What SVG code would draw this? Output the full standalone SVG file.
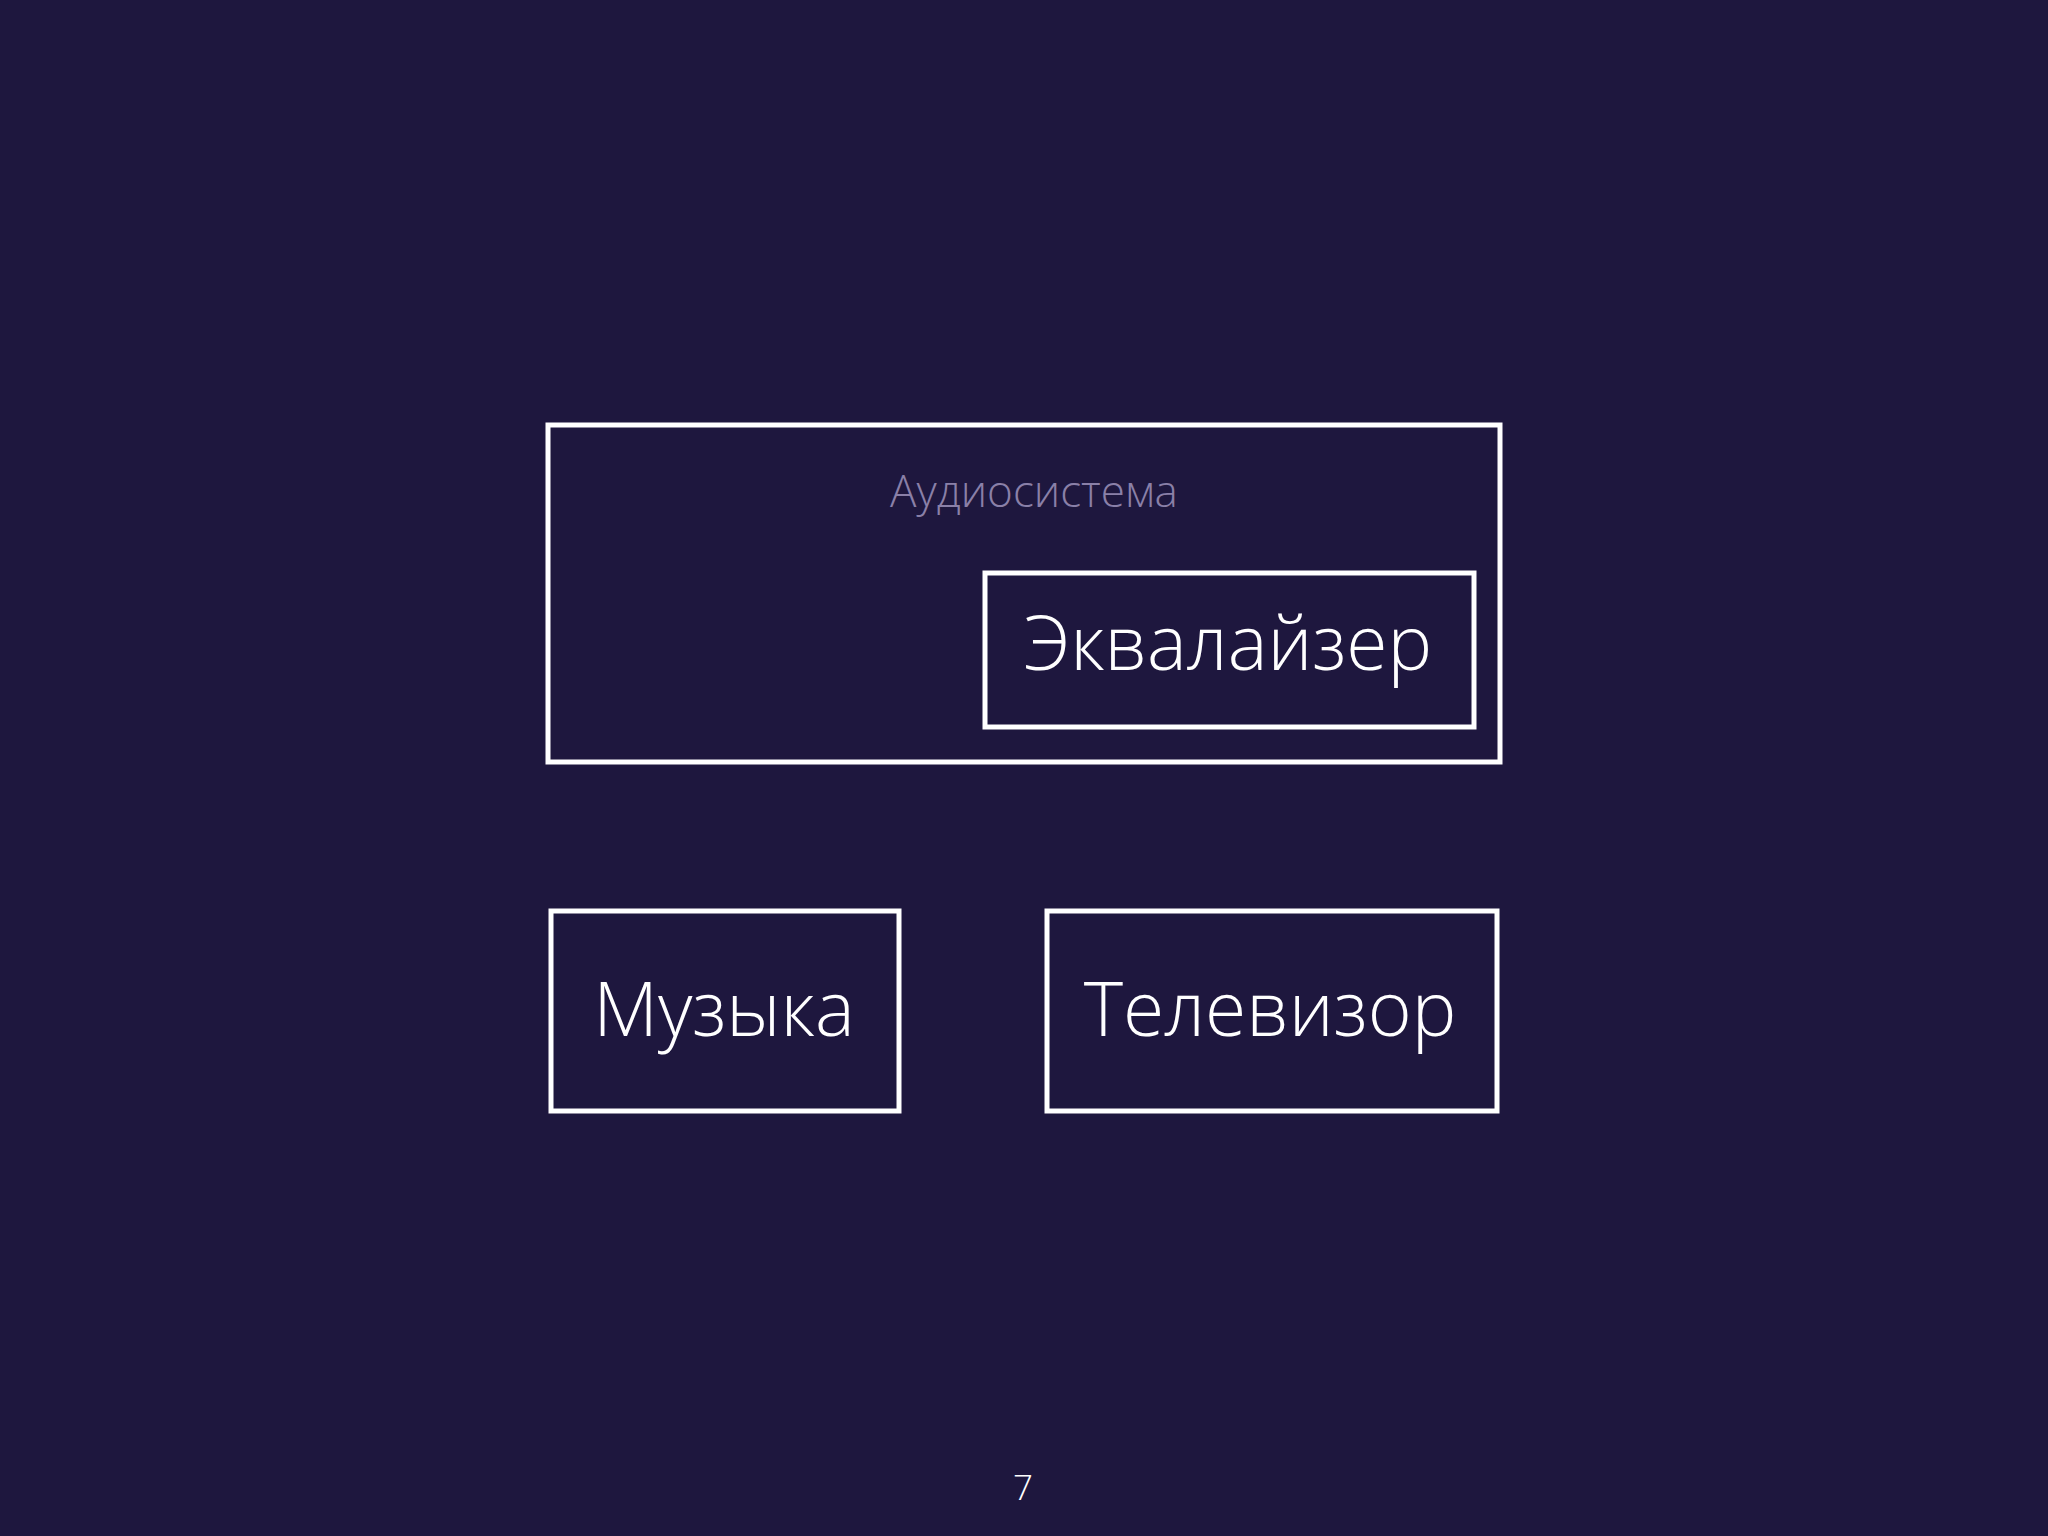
<svg xmlns="http://www.w3.org/2000/svg" width="2048" height="1536" viewBox="0 0 2048 1536">
<style>
.box{fill:none;stroke:#ffffff;stroke-width:5}
.lbl{font-family:"Open Sans","Liberation Sans",sans-serif;font-weight:300;fill:#ffffff;text-anchor:middle}
</style>
<rect x="0" y="0" width="2048" height="1536" fill="#1e173e"/>
<g id="audiosystem">
<rect class="box" x="548" y="425" width="952" height="337"/>
<text class="lbl" x="1034" y="507" font-size="44" style="fill:#8a80a8">Аудиосистема</text>
</g>
<g id="equalizer">
<rect class="box" x="985" y="573" width="489" height="154"/>
<text class="lbl" x="1228" y="670" font-size="75">Эквалайзер</text>
</g>
<g id="music">
<rect class="box" x="551" y="911" width="348" height="200"/>
<text class="lbl" x="724" y="1036" font-size="75">Музыка</text>
</g>
<g id="tv">
<rect class="box" x="1047" y="911" width="450" height="200"/>
<text class="lbl" x="1270" y="1036" font-size="75">Телевизор</text>
</g>
<g id="connectors"></g>
<text class="lbl" x="1023" y="1500" font-size="35">7</text>
</svg>
